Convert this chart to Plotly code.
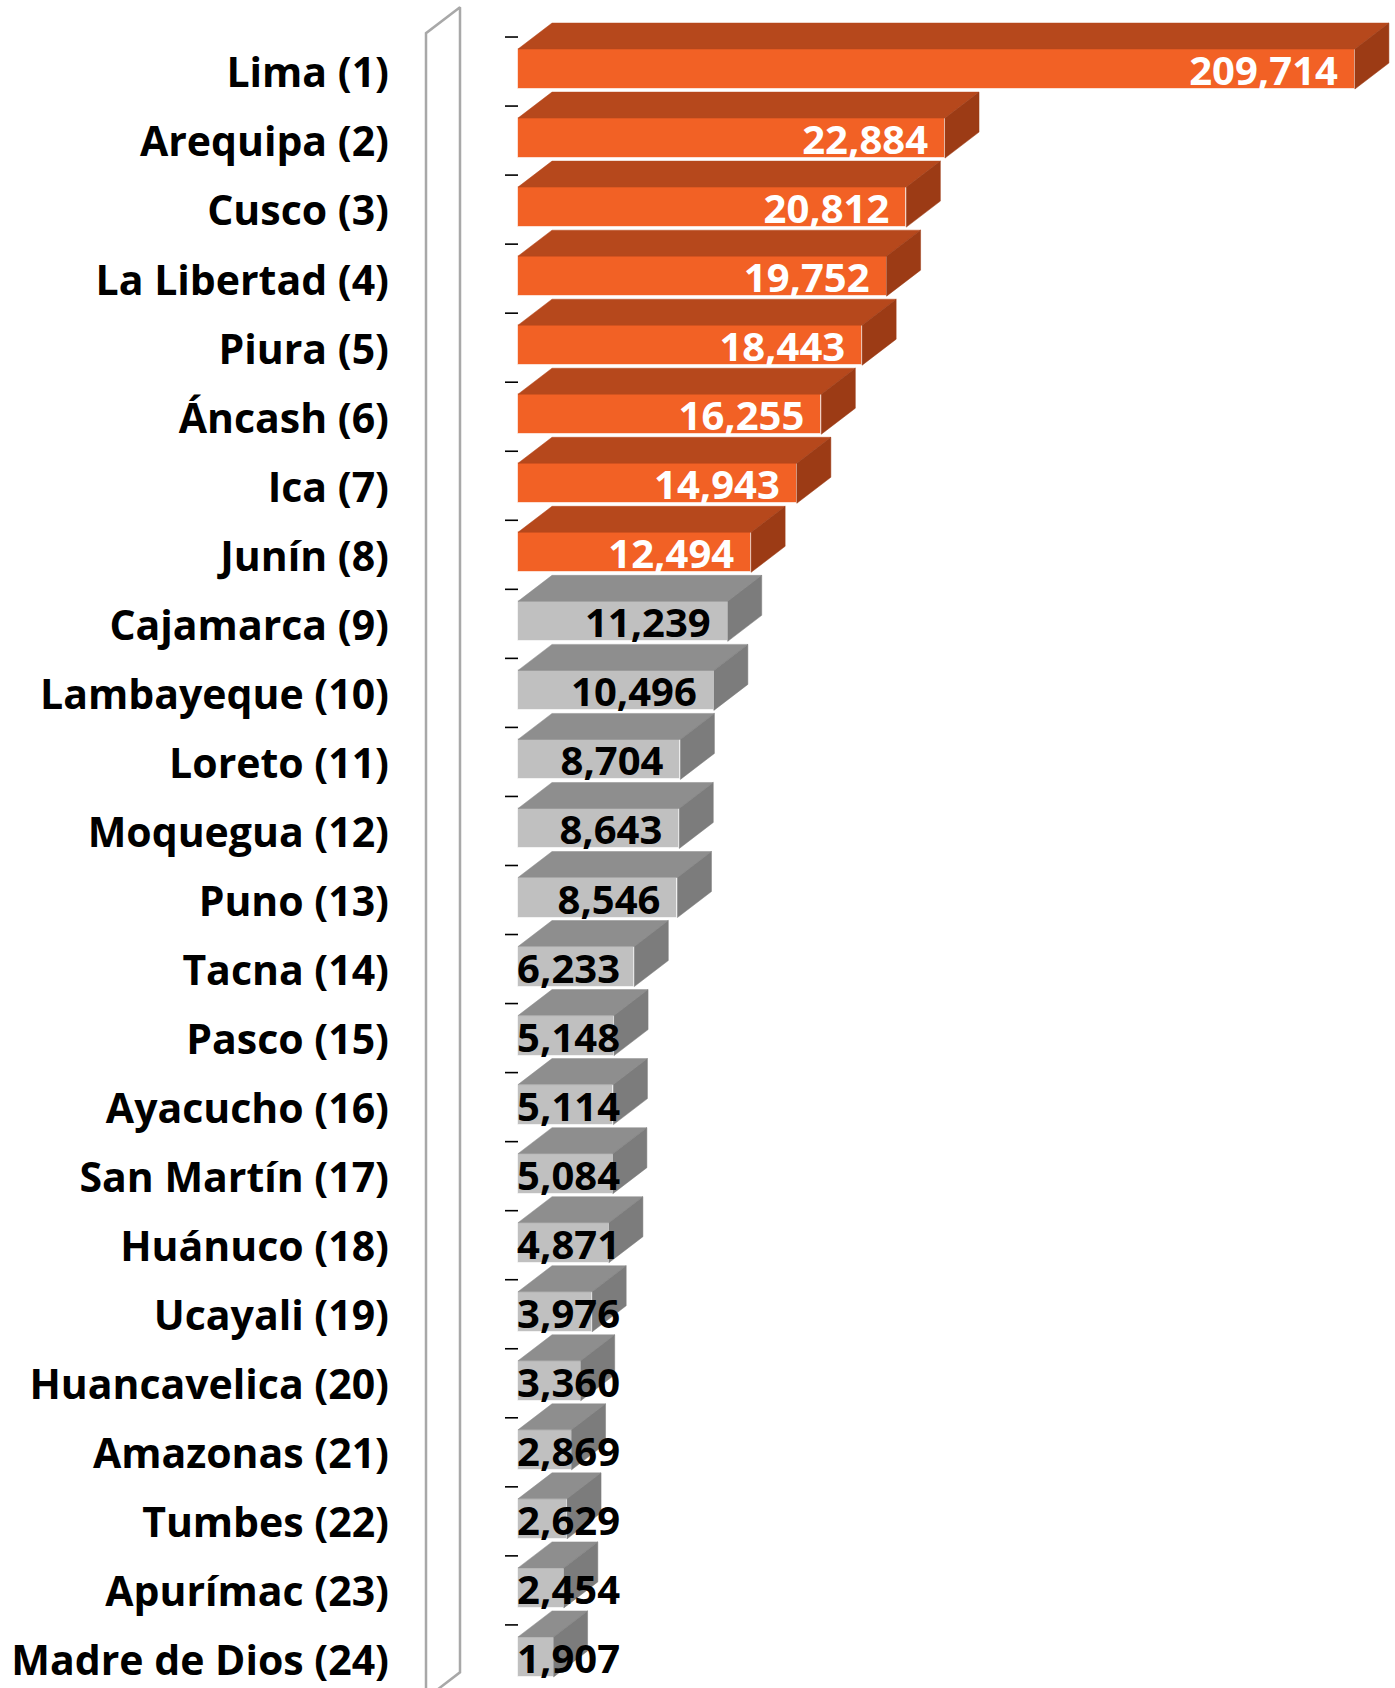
import plotly.graph_objects as go

# ---------------- data ----------------
departamentos = [
    "Lima (1)", "Arequipa (2)", "Cusco (3)", "La Libertad (4)", "Piura (5)",
    "Áncash (6)", "Ica (7)", "Junín (8)", "Cajamarca (9)", "Lambayeque (10)",
    "Loreto (11)", "Moquegua (12)", "Puno (13)", "Tacna (14)", "Pasco (15)",
    "Ayacucho (16)", "San Martín (17)", "Huánuco (18)", "Ucayali (19)",
    "Huancavelica (20)", "Amazonas (21)", "Tumbes (22)", "Apurímac (23)",
    "Madre de Dios (24)",
]
valores = [
    209714, 22884, 20812, 19752, 18443, 16255, 14943, 12494, 11239, 10496,
    8704, 8643, 8546, 6233, 5148, 5114, 5084, 4871, 3976, 3360, 2869, 2629,
    2454, 1907,
]
grupo = ["top"] * 8 + ["resto"] * 16
tope_eje = 44850  # axis break: bars longer than this are drawn truncated

# ---------------- styling / layout ----------------
FIG_W, FIG_H = 1395, 1688
MARGIN_L = 400
X_RANGE = [-6324, 46999]
Y_RANGE = [23.45, -1.0]
FONT = "Open Sans"

colores = {
    "top": dict(front="#F26125", top="#B6481C", side="#9C3B15", text="white"),
    "resto": dict(front="#C0C0C0", top="#8E8E8E", side="#7C7C7C", text="black"),
}

ppu_x = (FIG_W - MARGIN_L) / (X_RANGE[1] - X_RANGE[0])
ppu_y = FIG_H / (Y_RANGE[0] - Y_RANGE[1])
DX = 34 / ppu_x          # depth offset (x) in data units
DY = 26 / ppu_y          # depth offset (y) in category units
H = 20 / ppu_y           # half height of front face

pos = list(range(len(departamentos)))
mostrado = [min(v, tope_eje) for v in valores]

fig = go.Figure()

# wall outline (category-axis plane)
wx = -92 / ppu_x
wy0, wy1 = -0.52, 23.6
fig.add_trace(go.Scatter(
    x=[wx, wx, wx + DX, wx + DX, wx],
    y=[wy1, wy0, wy0 - DY, wy1 - DY, wy1],
    mode="lines", line=dict(color="#A8A8A8", width=2.5),
    hoverinfo="skip", showlegend=False,
))

# tick marks at category boundaries
tx, ty = [], []
for i in pos:
    yb = i - 0.5 + 2.5 / ppu_y
    tx += [-13 / ppu_x, 0, None]
    ty += [yb, yb, None]
fig.add_trace(go.Scatter(x=tx, y=ty, mode="lines",
                         line=dict(color="black", width=1.6),
                         hoverinfo="skip", showlegend=False))

# front faces
fig.add_trace(go.Bar(
    y=pos, x=mostrado, orientation="h", width=2 * H,
    marker=dict(color=[colores[g]["front"] for g in grupo],
                line=dict(color="rgba(255,255,255,0.6)", width=1)),
    hoverinfo="skip", showlegend=False,
))

# top and side faces
for g in colores:
    topx, topy, sx, sy = [], [], [], []
    for i, v, gg in zip(pos, mostrado, grupo):
        if gg != g:
            continue
        yt = i - H
        yb = i + H
        topx += [0, v, v + DX, DX, 0, None]
        topy += [yt, yt, yt - DY, yt - DY, yt, None]
        sx += [v, v + DX, v + DX, v, v, None]
        sy += [yt, yt - DY, yb - DY, yb, yt, None]
    fig.add_trace(go.Scatter(x=topx, y=topy, mode="lines", fill="toself",
                             fillcolor=colores[g]["top"],
                             line=dict(color=colores[g]["top"], width=0.5),
                             hoverinfo="skip", showlegend=False))
    fig.add_trace(go.Scatter(x=sx, y=sy, mode="lines", fill="toself",
                             fillcolor=colores[g]["side"],
                             line=dict(color=colores[g]["side"], width=0.5),
                             hoverinfo="skip", showlegend=False))

# value labels
lab_x = [max(v - 17 / ppu_x, 102 / ppu_x) for v in mostrado]
lab_y = [i + 6 / ppu_y for i in pos]
fig.add_trace(go.Scatter(
    x=lab_x, y=lab_y, mode="text",
    text=[f"{v:,}" for v in valores],
    textposition="middle left",
    textfont=dict(family=FONT, size=40, weight="bold",
                  color=[colores[g]["text"] for g in grupo]),
    hoverinfo="skip", showlegend=False,
))

fig.update_layout(
    width=FIG_W, height=FIG_H,
    margin=dict(l=MARGIN_L, r=0, t=0, b=0, pad=0),
    paper_bgcolor="white", plot_bgcolor="white",
    xaxis=dict(range=X_RANGE, visible=False, fixedrange=True),
    yaxis=dict(
        range=Y_RANGE, tickvals=[i + 4 / ppu_y for i in pos],
        ticktext=departamentos,
        tickfont=dict(family=FONT, size=41, weight="bold", color="black"),
        showgrid=False, zeroline=False, showline=False, ticks="",
        ticklabelstandoff=10, automargin=False, fixedrange=True,
    ),
    bargap=0,
)

fig.write_html("out.html", config={"displayModeBar": False},
               post_script="document.body.style.margin='0';")
